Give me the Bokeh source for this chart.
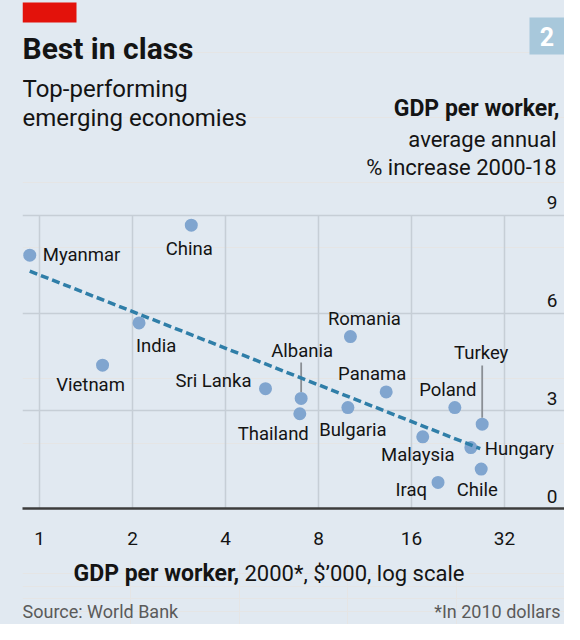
from bokeh.plotting import figure
from bokeh.layouts import column
from bokeh.models import (ColumnDataSource, LabelSet, BoxAnnotation, Grid,
                          FixedTicker, Range1d)
from bokeh.core.properties import value
from bokeh.embed import file_html
from bokeh.resources import INLINE

# ---------------- data ----------------
countries = ["Myanmar", "China", "India", "Vietnam", "Sri Lanka", "Thailand", "Albania",
             "Romania", "Panama", "Bulgaria", "Poland", "Turkey", "Malaysia", "Hungary",
             "Iraq", "Chile"]
gdp_2000 = [0.93, 3.10, 2.10, 1.60, 5.39, 6.96, 7.03, 10.15, 13.25, 9.96, 22.1, 27.1,
            17.4, 24.9, 19.5, 26.9]
growth = [7.78, 8.70, 5.70, 4.40, 3.68, 2.91, 3.38, 5.28, 3.58, 3.10, 3.10, 2.59,
          2.20, 1.87, 0.80, 1.21]
trend_x = [0.93, 26.7]
trend_y = [7.29, 1.84]
x_ticks = [1, 2, 4, 8, 16, 32]
x_tick_labels = ["1", "2", "4", "8", "16", "32"]
y_ticks = [0, 3, 6, 9]
y_tick_labels = ["0", "3", "6", "9"]

# ---------------- label placement (pixel offsets from dot, y downwards) ----------------
label_pos = {
    "Myanmar": (13, 0, "left"),
    "China": (-2, 24, "center"),
    "India": (-3, 23, "left"),
    "Vietnam": (-12, 20, "center"),
    "Sri Lanka": (-14, -8, "right"),
    "Thailand": (9, 20, "right"),
    "Albania": (1, -47, "center"),
    "Romania": (14, -18, "center"),
    "Panama": (-14, -18, "center"),
    "Bulgaria": (5, 22, "center"),
    "Poland": (-7, -18, "center"),
    "Turkey": (-1, -71, "center"),
    "Malaysia": (-5, 18, "center"),
    "Hungary": (14, 1, "left"),
    "Iraq": (-11, 8, "right"),
    "Chile": (-4, 21, "center"),
}
leader_top = {"Albania": 4.48, "Turkey": 4.39}

BG = "#e1e9f1"
GRID = "#c6ced6"
DOT = "#80a5cf"
TREND = "#2f7ea8"
INK = "#141414"
GREY = "#5a5a5a"
FONT = "Roboto"

X0, X1 = 0.881, 50.05
Y_TOP = 15.60  # frame reaches the top of the panel so that header text is not clipped

W = 564
MAIN_H = 560
FOOT_H = 624 - MAIN_H

p = figure(width=W, height=MAIN_H, x_axis_type="log", y_axis_location=None,
           x_range=Range1d(X0, X1), y_range=Range1d(0, Y_TOP),
           output_backend="svg", toolbar_location=None,
           min_border_left=22, min_border_right=0, min_border_top=0,
           min_border_bottom=MAIN_H - 508)
p.background_fill_color = BG
p.border_fill_color = BG
p.outline_line_color = None

# x axis
xa = p.xaxis[0]
xa.ticker = FixedTicker(ticks=x_ticks)
xa.major_label_overrides = {t: l for t, l in zip(x_ticks, x_tick_labels)}
xa.major_tick_out = 0
xa.major_tick_in = 0
xa.minor_tick_out = 0
xa.minor_tick_in = 0
xa.axis_line_color = "#3c3c3c"
xa.axis_line_width = 2.5
xa.major_label_standoff = 23
xa.major_label_text_font = FONT
xa.major_label_text_font_size = "19px"
xa.major_label_text_color = INK
p.xgrid.grid_line_color = None

# horizontal gridlines
p.add_layout(Grid(dimension=1, ticker=FixedTicker(ticks=y_ticks),
                  grid_line_color=GRID, grid_line_width=1.5))
# vertical gridlines, from 0 up to the top tick only
p.segment(x0=x_ticks, y0=[y_ticks[0]] * len(x_ticks), x1=x_ticks,
          y1=[y_ticks[-1]] * len(x_ticks), line_color=GRID, line_width=1.5)

# y tick labels (inside plot, right aligned above gridlines)
ysrc = ColumnDataSource(dict(x=[X1] * len(y_ticks), y=y_ticks, t=y_tick_labels))
p.add_layout(LabelSet(x="x", y="y", text="t", source=ysrc, x_offset=-7, y_offset=6,
                      text_align="right", text_baseline="alphabetic",
                      text_font=value(FONT), text_font_size="19px", text_color=INK))

# leader lines
lx = [gdp_2000[countries.index(c)] for c in leader_top]
ly0 = [growth[countries.index(c)] + 0.2 for c in leader_top]
ly1 = list(leader_top.values())
p.segment(x0=lx, y0=ly0, x1=lx, y1=ly1, line_color="#8a8f95", line_width=1.8)

# dots
src = ColumnDataSource(dict(x=gdp_2000, y=growth, name=countries))
p.scatter("x", "y", source=src, size=13, fill_color=DOT, line_color=None)

# trend line
p.line(trend_x, trend_y, line_color=TREND, line_width=3.5, line_dash="8 4")

# country labels
for align in ["left", "center", "right"]:
    names = [c for c in countries if label_pos[c][2] == align]
    s = ColumnDataSource(dict(
        x=[gdp_2000[countries.index(c)] for c in names],
        y=[growth[countries.index(c)] for c in names],
        name=names,
        dx=[label_pos[c][0] for c in names],
        dy=[label_pos[c][1] for c in names]))
    p.text(x="x", y="y", text="name", x_offset="dx", y_offset="dy", source=s,
           text_align=align, text_baseline="middle", text_font=value(FONT),
           text_font_size="18.5px", text_color=INK)


def lab(fig, text, x, y, size, align="left", style="normal", color=INK):
    s = ColumnDataSource(dict(x=[x], y=[y], t=[text]))
    fig.add_layout(LabelSet(x="x", y="y", text="t", source=s,
                            x_units="screen", y_units="screen",
                            text_align=align, text_baseline="alphabetic",
                            text_font=value(FONT), text_font_size=size,
                            text_font_style=style, text_color=color))


# header texts (screen units relative to the frame: x from its left, y up from its bottom)
lab(p, "Best in class", 0, 450, "30px", style="bold")
lab(p, "Top-performing", 0, 412, "24px")
lab(p, "emerging economies", 0, 383, "24px")
lab(p, "GDP per worker,", 537, 393, "23px", align="right", style="bold")
lab(p, "average annual", 534, 362, "22px", align="right")
lab(p, "% increase 2000-18", 534, 334, "22px", align="right")

# red tag and chart number box
p.add_layout(BoxAnnotation(left=0, right=54, top=506, bottom=486,
                           left_units="screen", right_units="screen",
                           top_units="screen", bottom_units="screen",
                           fill_color="#e3120b", fill_alpha=1, line_color=None))
p.add_layout(BoxAnnotation(left=507, right=542, top=491, bottom=454,
                           left_units="screen", right_units="screen",
                           top_units="screen", bottom_units="screen",
                           fill_color="#a8c8db", fill_alpha=1, line_color=None))
lab(p, "2", 524.5, 463, "25px", align="center", style="bold", color="white")

# ---------------- footer ----------------
f = figure(width=W, height=FOOT_H, x_range=Range1d(0, 1), y_range=Range1d(0, 1),
           x_axis_location=None, y_axis_location=None,
           output_backend="svg", toolbar_location=None,
           min_border_left=22, min_border_right=0, min_border_top=0, min_border_bottom=0)
f.background_fill_color = BG
f.border_fill_color = BG
f.outline_line_color = None
lab(f, "GDP per worker,", 51, 44, "23px", style="bold")
lab(f, "2000*, $\u2019000, log scale", 222, 44, "22px")
lab(f, "Source: World Bank", 0, 7, "18px", color=GREY)
lab(f, "*In 2010 dollars", 538, 7, "18px", align="right", color=GREY)

layout = column(p, f, spacing=0, styles={"background-color": BG})
open("out.html", "w").write(file_html(layout, INLINE))
